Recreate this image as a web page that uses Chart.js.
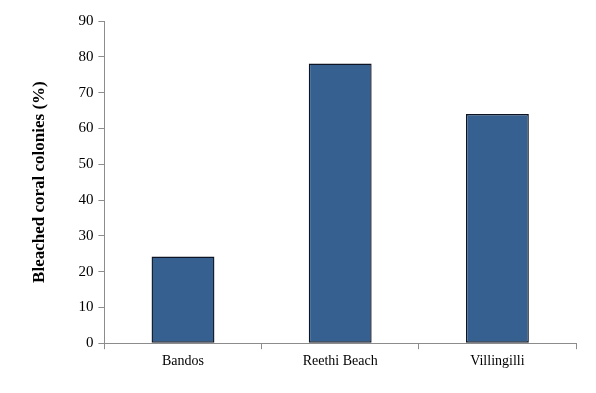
<!DOCTYPE html>
<html>
<head>
<meta charset="utf-8">
<script src="https://cdn.jsdelivr.net/npm/chart.js@4/dist/chart.umd.min.js"></script>
<style>
  html, body { margin: 0; padding: 0; background: #fff; }
  #wrap { width: 596px; height: 393px; }
</style>
</head>
<body>
<div id="wrap"><canvas id="coralChart"></canvas></div>
<script>
// Bleached coral colonies per site
const sites = ["Bandos", "Reethi Beach", "Villingilli"]
const bleachedPct = [24.2, 78.1, 64]
const yTicks = [0, 10, 20, 30, 40, 50, 60, 70, 80, 90]

const axisColor = "#8c8c8c"
const serif = "'Liberation Serif', 'Times New Roman', serif"

const ctx = document.getElementById("coralChart").getContext("2d")

new Chart(ctx, {
  type: "bar",
  data: {
    labels: sites,
    datasets: [
      {
        label: "Bleached coral colonies (%)",
        data: bleachedPct,
        backgroundColor: "#36608f",
        borderColor: "#0d1424",
        borderWidth: 1.4,
        borderSkipped: false,
        categoryPercentage: 1,
        barPercentage: 0.4,
      },
    ],
  },
  options: {
    responsive: true,
    maintainAspectRatio: false,
    animation: false,
    layout: { padding: { top: 21, right: 20, bottom: 19, left: 25 } },
    plugins: {
      legend: { display: false },
      tooltip: { enabled: false },
    },
    scales: {
      x: {
        grid: {
          offset: true,
          drawOnChartArea: false,
          color: axisColor,
          tickLength: 6,
        },
        border: { color: axisColor, width: 1 },
        ticks: {
          color: "#000",
          font: { family: serif, size: 14 },
          padding: 4,
        },
      },
      y: {
        min: 0,
        max: 90,
        afterBuildTicks: (axis) => {
          axis.ticks = yTicks.map((v) => ({ value: v }))
        },
        grid: {
          drawOnChartArea: false,
          color: axisColor,
          tickLength: 6,
        },
        border: { color: axisColor, width: 1 },
        ticks: {
          color: "#000",
          font: { family: serif, size: 15 },
          padding: 5,
        },
        title: {
          display: true,
          text: "Bleached coral colonies (%)",
          color: "#000",
          font: { family: serif, size: 17, weight: "bold" },
          padding: { bottom: 24 },
        },
      },
    },
  },
})
</script>
</body>
</html>
